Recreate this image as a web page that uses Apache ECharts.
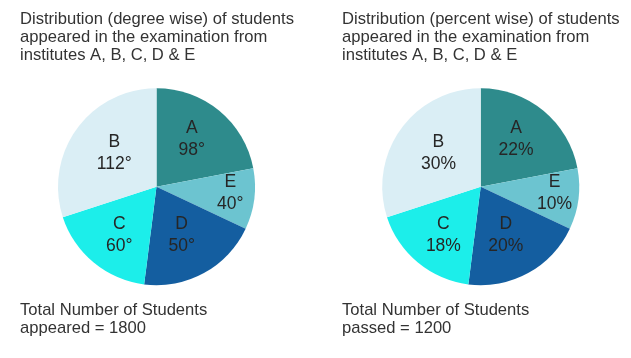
<!DOCTYPE html>
<html>
<head>
<meta charset="utf-8">
<script src="https://cdn.jsdelivr.net/npm/echarts@6/dist/echarts.min.js"></script>
<style>
html,body{margin:0;padding:0;background:#fff;}
#chart{width:631px;height:358px;}
</style>
</head>
<body>
<div id="chart"></div>
<script>
// Data (slice order clockwise from top)
const categories = ['A', 'E', 'D', 'C', 'B'];
const percentValues = [22, 10, 20, 18, 30];
const degreeValues = [98, 40, 50, 60, 112];
const sliceColors = ['#2E8B8C', '#6CC4D0', '#145EA0', '#1CEEEA', '#DAEEF5'];
const leftTitle = 'Distribution (degree wise) of students\nappeared in the examination from\ninstitutes A, B, C, D & E';
const rightTitle = 'Distribution (percent wise) of students\nappeared in the examination from\ninstitutes A, B, C, D & E';
const leftFooter = 'Total Number of Students\nappeared = 1800';
const rightFooter = 'Total Number of Students\npassed = 1200';

const FONT = 'Arial, "Liberation Sans", sans-serif';
const labelOffsets = [[2, -7], [22, 0], [0, 3], [-4, 8], [0, -3]];

function buildData(labels) {
  return categories.map((c, i) => ({
    name: c,
    value: percentValues[i],
    itemStyle: { color: sliceColors[i] },
    label: { offset: labelOffsets[i], formatter: c + '\n' + labels[i] }
  }));
}

const textStyle = { fontFamily: FONT, fontSize: 16.6, lineHeight: 18, color: '#333', fontWeight: 'normal' };

const chart = echarts.init(document.getElementById('chart'), null, { renderer: 'canvas' });
const pieCommon = {
  type: 'pie',
  radius: 98.5,
  startAngle: 90,
  clockwise: true,
  silent: true,
  animation: false,
  avoidLabelOverlap: false,
  itemStyle: { borderWidth: 0 },
  label: {
    show: true,
    position: 'inside',
    fontFamily: FONT,
    fontSize: 17.5,
    lineHeight: 22,
    color: '#262626',
    align: 'center'
  },
  labelLine: { show: false },
  emphasis: { disabled: true }
};

chart.setOption({
  backgroundColor: '#fff',
  animation: false,
  title: [
    { text: leftTitle, left: 20, top: 10, padding: 0, textStyle: textStyle },
    { text: rightTitle, left: 342, top: 10, padding: 0, textStyle: textStyle },
    { text: leftFooter, left: 20, top: 301, padding: 0, textStyle: textStyle },
    { text: rightFooter, left: 342, top: 301, padding: 0, textStyle: textStyle }
  ],
  series: [
    Object.assign({}, pieCommon, {
      center: [156.5, 186.7],
      data: buildData(degreeValues.map(v => v + '°'))
    }),
    Object.assign({}, pieCommon, {
      center: [480.7, 186.7],
      data: buildData(percentValues.map(v => v + '%'))
    })
  ]
});
</script>
</body>
</html>
